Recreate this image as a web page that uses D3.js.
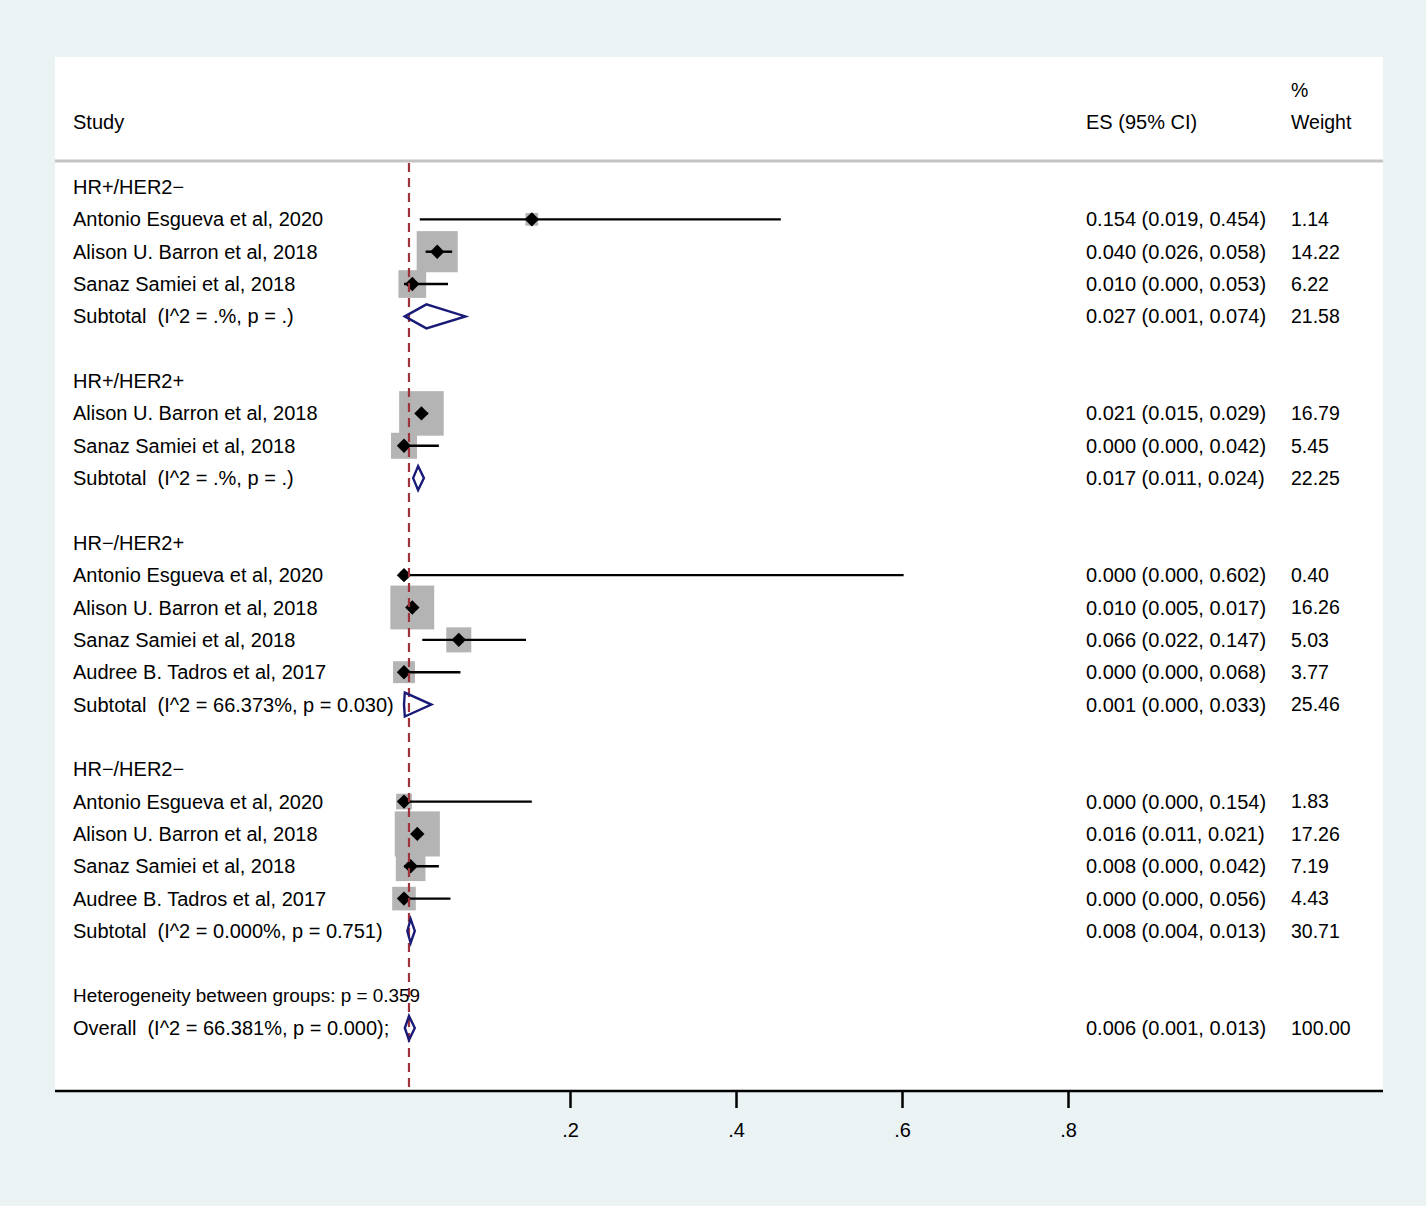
<!DOCTYPE html>
<html><head><meta charset="utf-8">
<script src="https://cdn.jsdelivr.net/npm/d3@7"></script>
<style>
html,body{margin:0;padding:0;background:#eaf2f3;}
svg{display:block;font-family:Arial,"Liberation Sans",sans-serif;}
</style></head>
<body>
<svg id="chart" width="1426" height="1206"></svg>
<script>
// ---- data ----
const groupNames = ["HR+/HER2\u2212", "HR+/HER2+", "HR\u2212/HER2+", "HR\u2212/HER2\u2212"];
const studyGroup = [0,0,0, 1,1, 2,2,2,2, 3,3,3,3];
const studyNames = [
  "Antonio Esgueva et al, 2020","Alison U. Barron et al, 2018","Sanaz Samiei et al, 2018",
  "Alison U. Barron et al, 2018","Sanaz Samiei et al, 2018",
  "Antonio Esgueva et al, 2020","Alison U. Barron et al, 2018","Sanaz Samiei et al, 2018","Audree B. Tadros et al, 2017",
  "Antonio Esgueva et al, 2020","Alison U. Barron et al, 2018","Sanaz Samiei et al, 2018","Audree B. Tadros et al, 2017"
];
const studyES     = [0.154,0.040,0.010, 0.021,0.000, 0.000,0.010,0.066,0.000, 0.000,0.016,0.008,0.000];
const studyLo     = [0.019,0.026,0.000, 0.015,0.000, 0.000,0.005,0.022,0.000, 0.000,0.011,0.000,0.000];
const studyHi     = [0.454,0.058,0.053, 0.029,0.042, 0.602,0.017,0.147,0.068, 0.154,0.021,0.042,0.056];
const studyWeight = [1.14,14.22,6.22, 16.79,5.45, 0.40,16.26,5.03,3.77, 1.83,17.26,7.19,4.43];

const subtotalLabels = [
  "Subtotal  (I^2 = .%, p = .)",
  "Subtotal  (I^2 = .%, p = .)",
  "Subtotal  (I^2 = 66.373%, p = 0.030)",
  "Subtotal  (I^2 = 0.000%, p = 0.751)"
];
const subtotalES     = [0.027,0.017,0.001,0.008];
const subtotalLo     = [0.001,0.011,0.000,0.004];
const subtotalHi     = [0.074,0.024,0.033,0.013];
const subtotalWeight = [21.58,22.25,25.46,30.71];

const heterogeneityLabel = "Heterogeneity between groups: p = 0.359";
const overallLabel = "Overall  (I^2 = 66.381%, p = 0.000);";
const overallES = 0.006, overallLo = 0.001, overallHi = 0.013, overallWeight = 100.00;

const xTicks = [0.2, 0.4, 0.6, 0.8];
const xTickLabels = [".2", ".4", ".6", ".8"];

// ---- build rows ----
const rows = [];
let idx = 0;
groupNames.forEach((g, gi) => {
  rows.push({type:"group", label:g, row: idx++});
  studyNames.forEach((n, si) => {
    if (studyGroup[si] === gi) rows.push({type:"study", label:n, es:studyES[si], lo:studyLo[si], hi:studyHi[si], w:studyWeight[si], row: idx++});
  });
  rows.push({type:"subtotal", label:subtotalLabels[gi], es:subtotalES[gi], lo:subtotalLo[gi], hi:subtotalHi[gi], w:subtotalWeight[gi], row: idx++});
  idx++; // blank row
});
rows.push({type:"het", label:heterogeneityLabel, row: idx++});
rows.push({type:"overall", label:overallLabel, es:overallES, lo:overallLo, hi:overallHi, w:overallWeight, row: idx++});

// ---- scales ----
const svg = d3.select("#chart");
const x = d3.scaleLinear().domain([0, 0.8]).range([404, 1068]);
const y = d3.scaleLinear().domain([0, idx - 1]).range([187, 1028]);
const plotL = 55, plotR = 1383, plotT = 57, axisY = 1091;
const FS = 20, FSW = 19.5;

svg.append("rect").attr("x", plotL).attr("y", plotT).attr("width", plotR - plotL).attr("height", axisY - plotT).attr("fill", "#ffffff");

// header
const hdr = svg.append("g").attr("fill", "#000");
hdr.append("text").attr("x", 73).attr("y", 122).attr("dy", "0.35em").attr("font-size", FS).text("Study");
hdr.append("text").attr("x", 1086).attr("y", 122).attr("dy", "0.35em").attr("font-size", FS).text("ES (95% CI)");
hdr.append("text").attr("x", 1291).attr("y", 90).attr("dy", "0.35em").attr("font-size", FSW).text("%");
hdr.append("text").attr("x", 1291).attr("y", 122).attr("dy", "0.35em").attr("font-size", FSW).text("Weight");
svg.append("line").attr("x1", plotL).attr("x2", plotR).attr("y1", 161).attr("y2", 161)
  .attr("stroke", "#c3c3c3").attr("stroke-width", 3);

// boxes
const studies = rows.filter(r => r.type === "study");
const side = w => 1.5 + 10.5 * Math.sqrt(w);
svg.append("g").selectAll("rect").data(studies).join("rect")
  .attr("x", d => x(d.es) - side(d.w) / 2).attr("y", d => y(d.row) - side(d.w) / 2)
  .attr("width", d => side(d.w)).attr("height", d => side(d.w))
  .attr("fill", "#b4b4b4");

// CI lines
svg.append("g").selectAll("line").data(studies).join("line")
  .attr("x1", d => x(d.lo)).attr("x2", d => x(d.hi))
  .attr("y1", d => y(d.row)).attr("y2", d => y(d.row))
  .attr("stroke", "#000").attr("stroke-width", 2.4);

// point markers
svg.append("g").selectAll("path").data(studies).join("path")
  .attr("d", d => { const cx = x(d.es), cy = y(d.row), r = 7.2;
    return `M${cx},${cy - r}L${cx + r},${cy}L${cx},${cy + r}L${cx - r},${cy}Z`; })
  .attr("fill", "#000");

// dashed overall line
svg.append("line").attr("x1", x(overallES)).attr("x2", x(overallES))
  .attr("y1", 163).attr("y2", axisY)
  .attr("stroke", "#a0323c").attr("stroke-width", 2.2).attr("stroke-dasharray", "9,6");

// pooled diamonds
const pooled = rows.filter(r => r.type === "subtotal" || r.type === "overall");
svg.append("g").selectAll("path").data(pooled).join("path")
  .attr("d", d => { const cy = y(d.row), h = 12;
    return `M${x(d.lo)},${cy}L${x(d.es)},${cy - h}L${x(d.hi)},${cy}L${x(d.es)},${cy + h}Z`; })
  .attr("fill", "none").attr("stroke", "#1a1a78").attr("stroke-width", 2.4).attr("stroke-linejoin", "miter");

// labels
const txt = svg.append("g").attr("fill", "#000");
txt.selectAll("text.lab").data(rows).join("text").attr("class", "lab")
  .attr("x", 73).attr("y", d => y(d.row)).attr("dy", "0.35em")
  .attr("font-size", d => d.type === "het" ? 18.9 : FS)
  .attr("xml:space", "preserve").style("white-space", "pre")
  .text(d => d.label);

const fmt = d3.format(".3f");
const withES = rows.filter(r => r.es !== undefined);
txt.selectAll("text.es").data(withES).join("text").attr("class", "es")
  .attr("x", 1086).attr("y", d => y(d.row)).attr("dy", "0.35em").attr("font-size", FS)
  .text(d => `${fmt(d.es)} (${fmt(d.lo)}, ${fmt(d.hi)})`);
txt.selectAll("text.w").data(withES).join("text").attr("class", "w")
  .attr("x", 1291).attr("y", d => y(d.row)).attr("dy", "0.35em").attr("font-size", FSW)
  .text(d => d3.format(".2f")(d.w));

// axis
svg.append("line").attr("x1", plotL).attr("x2", plotR).attr("y1", axisY).attr("y2", axisY)
  .attr("stroke", "#000").attr("stroke-width", 2.5);
const axis = d3.axisBottom(x).tickValues(xTicks).tickSize(17).tickPadding(15)
  .tickFormat((d, i) => xTickLabels[i]);
const ag = svg.append("g").attr("transform", `translate(0,${axisY})`).call(axis);
ag.select(".domain").remove();
ag.selectAll(".tick line").attr("stroke", "#000").attr("stroke-width", 2.5);
ag.selectAll(".tick text").attr("font-size", FS).attr("fill", "#000")
  .attr("font-family", "Arial, 'Liberation Sans', sans-serif");
</script>
</body></html>
